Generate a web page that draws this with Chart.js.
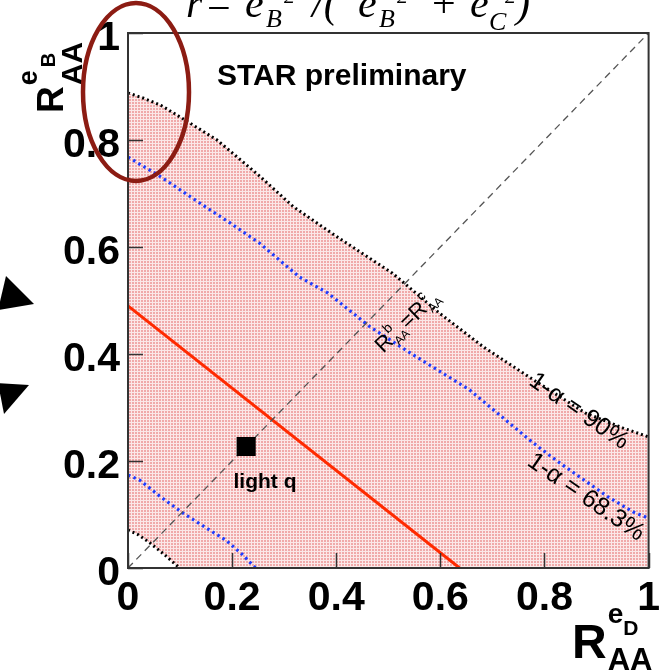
<!DOCTYPE html>
<html>
<head>
<meta charset="utf-8">
<script src="https://cdn.jsdelivr.net/npm/chart.js@4/dist/chart.umd.min.js"></script>
<style>
  html, body { margin: 0; padding: 0; background: #fff; }
  canvas { display: block; }
</style>
</head>
<body>
<canvas id="c" width="666" height="671"></canvas>
<script>
// Axis ticks (both axes share them)
const tickValues = [0, 0.2, 0.4, 0.6, 0.8, 1];
const tickLabels = ['0', '0.2', '0.4', '0.6', '0.8', '1'];

// 90% confidence contour, upper edge
const cl90UpperX = [0, 0.03, 0.063, 0.10, 0.171, 0.25, 0.318, 0.40, 0.508, 0.60, 0.683, 0.78, 0.878, 0.95, 1.0];
const cl90UpperY = [0.888, 0.878, 0.865, 0.843, 0.800, 0.735, 0.675, 0.620, 0.551, 0.475, 0.413, 0.351, 0.290, 0.262, 0.245];

// 90% confidence contour, lower-left corner
const cl90LowerX = [0, 0.02, 0.042, 0.07, 0.099];
const cl90LowerY = [0.071, 0.062, 0.047, 0.025, 0];

// 68.3% confidence contour, upper edge
const cl68UpperX = [0, 0.057, 0.152, 0.196, 0.253, 0.329, 0.384, 0.466, 0.542, 0.656, 0.778, 0.827, 0.922, 0.97, 1.0];
const cl68UpperY = [0.768, 0.735, 0.673, 0.645, 0.607, 0.544, 0.514, 0.450, 0.402, 0.333, 0.234, 0.198, 0.133, 0.105, 0.093];

// 68.3% confidence contour, lower edge
const cl68LowerX = [0, 0.023, 0.06, 0.105, 0.15, 0.188, 0.22, 0.245];
const cl68LowerY = [0.174, 0.164, 0.135, 0.103, 0.075, 0.052, 0.025, 0];

// Best-fit line
const fitX = [0, 0.637];
const fitY = [0.49, 0];

// R_AA^b = R_AA^c diagonal
const diagX = [0, 1];
const diagY = [0, 1];

// Light-quark reference point
const lightQX = [0.227];
const lightQY = [0.227];

const zip = (xs, ys) => xs.map((x, i) => ({ x: x, y: ys[i] }));

const SANS = '"Liberation Sans", Arial, Helvetica, sans-serif';
const SERIF = '"Liberation Serif", "Times New Roman", serif';

// Fine pink dot texture used for the allowed region
function makeHatch() {
  const c = document.createElement('canvas');
  c.width = 3; c.height = 3;
  const g = c.getContext('2d');
  g.fillStyle = '#fbe8e8';
  g.fillRect(0, 0, 3, 3);
  g.fillStyle = '#f0aaaa';
  g.fillRect(0, 0, 2, 2);
  return g.createPattern(c, 'repeat');
}

// Draws a run of text pieces (super/subscripts) along an optional rotation
function flowText(ctx, runs, x, y, angle, align) {
  const starts = [];
  let far = 0;
  const placed = runs.map(r => {
    ctx.font = r.font;
    const w = ctx.measureText(r.t).width;
    const sx = (r.from != null ? starts[r.from] : far) + (r.dx || 0);
    starts.push(sx);
    far = Math.max(far, sx + w);
    return { r: r, sx: sx };
  });
  const shift = align === 'center' ? -far / 2 : 0;
  ctx.save();
  ctx.translate(x, y);
  ctx.rotate(angle || 0);
  ctx.textAlign = 'left';
  ctx.textBaseline = 'alphabetic';
  ctx.fillStyle = '#000';
  placed.forEach(p => {
    ctx.font = p.r.font;
    ctx.fillText(p.r.t, p.sx + shift, p.r.dy || 0);
  });
  ctx.restore();
}

const decor = {
  id: 'decor',
  beforeDraw(chart) {
    const ctx = chart.ctx;
    ctx.save();
    ctx.fillStyle = '#fff';
    ctx.fillRect(0, 0, chart.width, chart.height);
    ctx.restore();
  },
  afterDatasetsDraw(chart) {
    const ctx = chart.ctx;
    const a = chart.chartArea;
    const xs = chart.scales.x, ys = chart.scales.y;
    ctx.save();
    // inward tick marks
    ctx.strokeStyle = '#333';
    ctx.lineWidth = 1.5;
    ctx.beginPath();
    tickValues.forEach(v => {
      const px = Math.round(xs.getPixelForValue(v)) + 0.5;
      ctx.moveTo(px, a.bottom);
      ctx.lineTo(px, a.bottom - 15);
      const py = Math.round(ys.getPixelForValue(v)) + 0.5;
      ctx.moveTo(a.left, py);
      ctx.lineTo(a.left + 15, py);
    });
    ctx.stroke();
    // frame
    ctx.strokeStyle = '#333';
    ctx.lineWidth = 2;
    ctx.strokeRect(a.left, a.top, a.right - a.left, a.bottom - a.top);
    ctx.restore();
  },
  afterDraw(chart) {
    const ctx = chart.ctx;
    ctx.save();

    // formula at the top edge
    ctx.fillStyle = '#000';
    ctx.textBaseline = 'alphabetic';
    const it = 'italic 42px ' + SERIF, itS = 'italic 26px ' + SERIF, rm = '42px ' + SERIF, sup = 'italic 22px ' + SERIF;
    const pieces = [
      ['r', it, 186, 17], ['=', rm, 207, 17], ['e', it, 245, 17], ['B', itS, 266, 27], ['2', sup, 284, 3],
      ['/(', it, 312, 17], ['e', it, 358, 17], ['B', itS, 379, 27], ['2', sup, 397, 3],
      ['+', rm, 432, 17], ['e', it, 470, 17], ['C', itS, 489, 30], ['2', sup, 505, 3], [')', it, 516, 17]
    ];
    pieces.forEach(p => { ctx.font = p[1]; ctx.fillText(p[0], p[2], p[3]); });

    // y-axis title
    flowText(ctx, [
      { t: 'R', font: 'bold 37px ' + SANS },
      { t: 'e', font: 'bold 27px ' + SANS, dy: -26, dx: 1 },
      { t: 'B', font: 'bold 20px ' + SANS, dy: -8, dx: 3 },
      { t: 'AA', font: 'bold 30px ' + SANS, dy: 19, from: 1 }
    ], 63, 113, -Math.PI / 2);

    // x-axis title
    flowText(ctx, [
      { t: 'R', font: 'bold 48px ' + SANS },
      { t: 'e', font: 'bold 28px ' + SANS, dy: -35, dx: 1 },
      { t: 'D', font: 'bold 21px ' + SANS, dy: -23, dx: 0 },
      { t: 'AA', font: 'bold 31px ' + SANS, dy: 12, from: 1 }
    ], 572, 658, 0);

    // header label
    ctx.font = 'bold 30px ' + SANS;
    ctx.textAlign = 'left';
    ctx.fillText('STAR preliminary', 217, 85);

    // light quark label
    ctx.font = 'bold 21px ' + SANS;
    ctx.textAlign = 'center';
    ctx.fillText('light q', 265, 488);

    // diagonal label
    flowText(ctx, [
      { t: 'R', font: '22px ' + SANS, dy: 0 },
      { t: 'b', font: '14px ' + SANS, dy: -11, dx: 1 },
      { t: 'AA', font: '12px ' + SANS, dy: 5, from: 1 },
      { t: '=', font: '22px ' + SANS, dy: 0, dx: 1 },
      { t: 'R', font: '22px ' + SANS, dy: 0 },
      { t: 'c', font: '14px ' + SANS, dy: -11, dx: 1 },
      { t: 'AA', font: '12px ' + SANS, dy: 5, from: 5 }
    ], 412, 326, -44 * Math.PI / 180, 'center');

    // contour labels
    flowText(ctx, [{ t: '1-\u03b1 = 90%', font: '25px ' + SANS }], 575, 417, 35 * Math.PI / 180, 'center');
    flowText(ctx, [{ t: '1-\u03b1 = 68.3%', font: '25px ' + SANS }], 582, 503, 34.5 * Math.PI / 180, 'center');

    // highlight ellipse
    ctx.strokeStyle = '#8c1c13';
    ctx.lineWidth = 4.5;
    ctx.beginPath();
    ctx.ellipse(136, 92, 53, 89, 0, 0, Math.PI * 2);
    ctx.stroke();

    // pointer arrows on the left edge
    ctx.fillStyle = '#000';
    ctx.beginPath();
    ctx.moveTo(6, 276); ctx.lineTo(34, 304); ctx.lineTo(-2, 310); ctx.closePath();
    ctx.fill();
    ctx.beginPath();
    ctx.moveTo(-2, 383); ctx.lineTo(29, 385); ctx.lineTo(4, 414); ctx.closePath();
    ctx.fill();

    ctx.restore();
  }
};

const hatch = makeHatch();
const tickFont = { family: SANS, size: 41, weight: 'bold' };

new Chart(document.getElementById('c'), {
  type: 'line',
  data: {
    datasets: [
      {
        label: '90% upper',
        data: zip(cl90UpperX, cl90UpperY),
        borderColor: '#000', borderWidth: 3, borderDash: [2, 3],
        fill: 'origin', backgroundColor: hatch,
        pointRadius: 0, order: 10
      },
      {
        label: '90% lower',
        data: zip(cl90LowerX, cl90LowerY),
        borderColor: '#000', borderWidth: 3, borderDash: [2, 3],
        fill: 'origin', backgroundColor: '#fff',
        pointRadius: 0, order: 9
      },
      {
        label: '68.3% upper',
        data: zip(cl68UpperX, cl68UpperY),
        borderColor: '#1f3cff', borderWidth: 3.2, borderDash: [2.5, 3.5],
        fill: false, pointRadius: 0, order: 5
      },
      {
        label: '68.3% lower',
        data: zip(cl68LowerX, cl68LowerY),
        borderColor: '#1f3cff', borderWidth: 3.2, borderDash: [2.5, 3.5],
        fill: false, pointRadius: 0, order: 5
      },
      {
        label: 'best fit',
        data: zip(fitX, fitY),
        borderColor: '#ff2a00', borderWidth: 3,
        fill: false, pointRadius: 0, order: 4
      },
      {
        label: 'diagonal',
        data: zip(diagX, diagY),
        borderColor: '#555', borderWidth: 1.3, borderDash: [7, 5],
        fill: false, pointRadius: 0, order: 3
      },
      {
        label: 'light q',
        data: zip(lightQX, lightQY),
        showLine: false,
        pointStyle: 'rect', pointRadius: 13.5,
        backgroundColor: '#000', borderColor: '#000', borderWidth: 0,
        order: 1
      }
    ]
  },
  options: {
    responsive: false,
    devicePixelRatio: 1,
    animation: false,
    events: [],
    layout: { padding: { top: 33, right: 12, left: 0, bottom: 0 } },
    plugins: { legend: { display: false }, tooltip: { enabled: false } },
    scales: {
      x: {
        type: 'linear', min: 0, max: 1,
        afterBuildTicks: s => { s.ticks = tickValues.map(v => ({ value: v })); },
        afterFit: s => { s.height = 103; },
        grid: { display: false, drawTicks: false },
        border: { display: false },
        ticks: {
          color: '#000', font: tickFont, padding: 6,
          maxRotation: 0, autoSkip: false,
          callback: (v, i) => tickLabels[i]
        }
      },
      y: {
        type: 'linear', min: 0, max: 1,
        afterBuildTicks: s => { s.ticks = tickValues.map(v => ({ value: v })); },
        afterFit: s => { s.width = 128; },
        grid: { display: false, drawTicks: false },
        border: { display: false },
        ticks: {
          color: '#000', font: tickFont, padding: 8, labelOffset: 6,
          autoSkip: false,
          callback: (v, i) => tickLabels[i]
        }
      }
    }
  },
  plugins: [decor]
});
</script>
</body>
</html>
